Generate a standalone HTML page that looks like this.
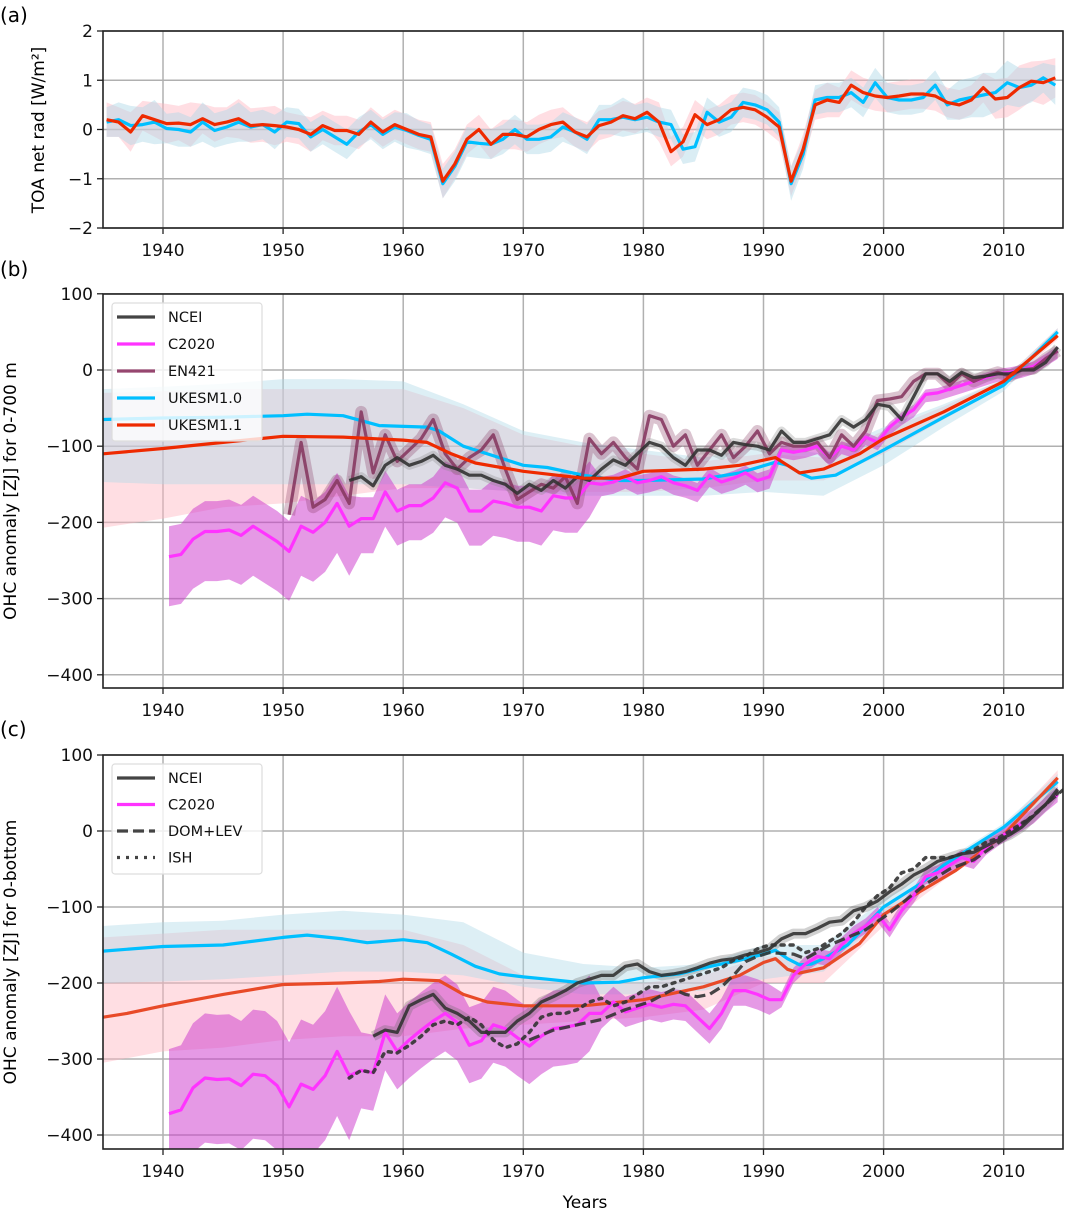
<!DOCTYPE html>
<html><head><meta charset="utf-8">
<style>
html,body{margin:0;padding:0;background:#fff;}
svg{display:block;font-family:"DejaVu Sans","Liberation Sans",sans-serif;}
</style></head>
<body>
<svg id="chart" width="1065" height="1210" viewBox="0 0 1065 1210" xmlns="http://www.w3.org/2000/svg">
<text x="0" y="22" font-size="20">(a)</text>
<text x="0" y="276" font-size="20">(b)</text>
<text x="0" y="736" font-size="20">(c)</text>
<text x="585" y="1208" font-size="17" text-anchor="middle">Years</text>
<text transform="translate(44,130) rotate(-90)" font-size="17" text-anchor="middle">TOA net rad [W/m²]</text>
<text transform="translate(16,491) rotate(-90)" font-size="17" text-anchor="middle">OHC anomaly [ZJ] for 0-700 m</text>
<text transform="translate(16,952) rotate(-90)" font-size="17" text-anchor="middle">OHC anomaly [ZJ] for 0-bottom</text>
</svg>
<script>
// ---------- data ----------
const xTicks = [1940,1950,1960,1970,1980,1990,2000,2010];
const yTicksA = [2,1,0,-1,-2];
const yTicksB = [100,0,-100,-200,-300,-400];
const yTicksC = [100,0,-100,-200,-300,-400];

// Panel a (annual, 1935-2014)
const toaYears = [1935,1936,1937,1938,1939,1940,1941,1942,1943,1944,1945,1946,1947,1948,1949,1950,1951,1952,1953,1954,1955,1956,1957,1958,1959,1960,1961,1962,1963,1964,1965,1966,1967,1968,1969,1970,1971,1972,1973,1974,1975,1976,1977,1978,1979,1980,1981,1982,1983,1984,1985,1986,1987,1988,1989,1990,1991,1992,1993,1994,1995,1996,1997,1998,1999,2000,2001,2002,2003,2004,2005,2006,2007,2008,2009,2010,2011,2012,2013,2014];
const toaUK11 = [0.2,0.15,-0.05,0.28,0.2,0.12,0.13,0.1,0.22,0.1,0.15,0.22,0.08,0.1,0.08,0.05,0,-0.1,0.08,-0.02,-0.02,-0.1,0.15,-0.05,0.1,0,-0.1,-0.15,-1.05,-0.7,-0.2,0,-0.3,-0.1,-0.1,-0.15,0,0.1,0.15,-0.05,-0.15,0.08,0.15,0.28,0.22,0.35,0.15,-0.45,-0.25,0.3,0.1,0.2,0.4,0.45,0.4,0.25,0.05,-1.05,-0.4,0.5,0.6,0.55,0.9,0.75,0.68,0.65,0.68,0.72,0.72,0.68,0.55,0.5,0.6,0.85,0.62,0.65,0.85,0.98,0.95,1.05];
const toaUK10 = [0.15,0.2,0.08,0.1,0.15,0.02,0,-0.05,0.15,-0.02,0.05,0.15,0.05,0.1,-0.05,0.15,0.12,-0.15,0,-0.15,-0.3,-0.05,0.1,-0.1,0.05,-0.02,-0.12,-0.2,-1.1,-0.75,-0.25,-0.28,-0.3,-0.2,0,-0.2,-0.2,-0.15,0.05,-0.05,-0.2,0.2,0.2,0.25,0.2,0.25,0.15,0.1,-0.4,-0.35,0.35,0.15,0.25,0.55,0.5,0.4,0.15,-1.1,-0.5,0.6,0.65,0.65,0.75,0.55,0.95,0.65,0.6,0.6,0.65,0.9,0.5,0.6,0.65,0.7,0.75,0.95,0.85,0.9,1.05,0.9];
const toaErr = [0.35,0.3,0.4,0.3,0.35,0.4,0.35,0.45,0.3,0.35,0.3,0.4,0.35,0.35,0.4,0.3,0.3,0.35,0.3,0.3,0.3,0.3,0.3,0.3,0.3,0.3,0.3,0.3,0.35,0.3,0.3,0.3,0.3,0.3,0.3,0.3,0.3,0.3,0.3,0.3,0.3,0.3,0.3,0.3,0.3,0.3,0.4,0.3,0.3,0.3,0.3,0.3,0.3,0.3,0.3,0.3,0.3,0.3,0.3,0.3,0.35,0.3,0.3,0.3,0.3,0.3,0.3,0.3,0.3,0.3,0.3,0.3,0.3,0.3,0.4,0.4,0.45,0.4,0.45,0.4];

// shared ensemble band years
const bandYears = [1935,1940,1945,1950,1955,1960,1965,1970,1975,1980,1985,1990,1995,2000,2005,2010,2014.5];

// Panel b
const bUK10Years = [1935,1940,1945,1950,1952,1955,1958,1962,1963,1965,1968,1970,1972,1975,1978,1980,1985,1988,1991,1992,1993,1994,1996,2000,2005,2010,2014.5];
const bUK10 = [-65,-63,-62,-60,-58,-60,-73,-75,-80,-100,-115,-125,-128,-138,-145,-145,-143,-135,-121,-125,-135,-142,-138,-105,-62,-20,50];
const bUK11Years = [1935,1940,1945,1950,1955,1960,1962,1964,1966,1970,1975,1978,1980,1985,1988,1991,1992,1993,1995,1998,2000,2005,2010,2014.5];
const bUK11 = [-110,-103,-95,-87,-88,-92,-95,-110,-122,-133,-142,-142,-133,-130,-125,-115,-125,-135,-130,-110,-90,-55,-15,45];
const bBlueHi = [-25,-22,-18,-12,-12,-15,-45,-80,-95,-105,-115,-100,-110,-75,-45,-12,55];
const bBlueLo = [-147,-150,-150,-150,-150,-150,-155,-160,-165,-165,-165,-160,-165,-125,-75,-28,45];
const bPinkHi = [-30,-28,-25,-25,-25,-25,-50,-85,-100,-110,-120,-110,-115,-80,-48,-12,55];
const bPinkLo = [-207,-195,-180,-175,-165,-155,-155,-160,-160,-160,-155,-145,-145,-110,-65,-22,40];
const bNceiStart = 1955;
const bNcei = [-145,-140,-152,-125,-115,-125,-120,-112,-125,-130,-138,-138,-145,-150,-162,-150,-158,-145,-155,-140,-145,-130,-118,-125,-110,-95,-100,-115,-125,-105,-105,-112,-95,-98,-100,-105,-80,-95,-95,-90,-85,-65,-75,-65,-45,-48,-65,-35,-5,-5,-15,-3,-10,-8,-5,-5,0,0,10,30];
const bEnStart = 1950;
const bEn = [-190,-95,-180,-170,-145,-175,-55,-135,-85,-120,-105,-90,-65,-110,-130,-115,-105,-85,-130,-170,-160,-150,-155,-140,-175,-90,-110,-95,-115,-130,-60,-65,-100,-85,-125,-105,-85,-115,-100,-80,-110,-95,-100,-100,-95,-115,-85,-100,-80,-40,-38,-35,-15,-5,-5,-20,-5,-15,-8,-3,-8,0,2,15,25];
const bC20Start = 1940;
const bC20 = [-245,-242,-222,-212,-212,-210,-217,-205,-215,-225,-238,-205,-213,-200,-175,-205,-195,-195,-160,-185,-178,-178,-168,-148,-155,-185,-185,-172,-175,-180,-180,-185,-165,-168,-168,-148,-150,-147,-140,-148,-145,-140,-148,-152,-158,-138,-147,-142,-135,-145,-140,-105,-108,-105,-100,-115,-100,-105,-88,-95,-75,-62,-52,-32,-30,-25,-20,-15,-10,-5,-3,0,5,15,25];

// Panel c
const cUK10Years = [1935,1940,1945,1950,1952,1955,1957,1960,1962,1964,1966,1968,1970,1972,1975,1978,1980,1983,1985,1988,1990,1991,1992,1993,1994,1995,1997,2000,2003,2005,2010,2014.5];
const cUK10 = [-158,-152,-150,-140,-137,-142,-147,-143,-147,-162,-178,-188,-192,-195,-200,-199,-193,-188,-180,-170,-162,-157,-168,-176,-175,-168,-150,-100,-70,-45,5,65];
const cUK11Years = [1935,1937,1940,1945,1950,1955,1958,1960,1963,1965,1967,1970,1975,1980,1985,1988,1990,1991,1992,1993,1995,1998,2000,2003,2006,2010,2014.5];
const cUK11 = [-245,-240,-230,-215,-202,-200,-198,-195,-197,-215,-225,-230,-230,-222,-205,-190,-173,-168,-182,-187,-180,-148,-110,-80,-52,-5,70];
const cBlueHi = [-125,-120,-118,-110,-105,-110,-120,-160,-175,-180,-175,-150,-150,-90,-40,10,75];
const cBlueLo = [-200,-198,-195,-190,-185,-185,-190,-205,-215,-215,-210,-195,-185,-115,-55,-5,55];
const cPinkHi = [-140,-135,-130,-130,-130,-130,-150,-190,-200,-200,-190,-165,-165,-100,-48,5,80];
const cPinkLo = [-305,-290,-285,-275,-270,-270,-260,-255,-250,-245,-235,-200,-200,-125,-65,-12,60];
const cNceiStart = 1957;
const cNcei = [-270,-262,-265,-230,-222,-215,-233,-240,-250,-265,-265,-265,-250,-240,-225,-218,-210,-200,-195,-190,-190,-178,-175,-185,-190,-188,-185,-180,-174,-170,-168,-163,-160,-155,-142,-135,-135,-128,-120,-118,-105,-100,-92,-80,-70,-58,-50,-40,-35,-30,-28,-20,-12,-5,5,20,35,55];
const cDomYears = [1970,1972,1974,1976,1978,1980,1982,1983,1984,1985,1986,1987,1988,1989,1990,1992,1993,1995,1998,2000,2003,2005,2007,2010,2014.5];
const cDom = [-275,-262,-255,-248,-235,-225,-208,-215,-218,-215,-205,-190,-172,-165,-160,-162,-168,-150,-130,-108,-70,-50,-38,-5,55];
const cIshStart = 1955;
const cIsh = [-325,-315,-318,-290,-292,-282,-270,-255,-250,-255,-245,-255,-275,-285,-280,-265,-245,-240,-240,-235,-225,-220,-230,-225,-215,-205,-205,-200,-195,-190,-185,-180,-170,-165,-155,-150,-150,-150,-160,-155,-145,-135,-120,-100,-85,-75,-55,-50,-35,-35,-35,-30,-25,-15,-10,0,10,20,35,50];
const cC20Start = 1940;
const cC20 = [-372,-367,-338,-325,-327,-326,-335,-320,-322,-335,-363,-333,-340,-322,-290,-322,-315,-318,-265,-290,-275,-262,-250,-240,-252,-282,-276,-255,-260,-272,-283,-270,-260,-258,-255,-240,-240,-225,-238,-233,-228,-232,-228,-230,-245,-260,-240,-210,-210,-215,-222,-222,-190,-175,-165,-168,-150,-135,-125,-110,-130,-105,-85,-60,-55,-45,-35,-40,-22,-10,0,10,20,35,48];

// ---------- drawing ----------
const NS = "http://www.w3.org/2000/svg";
const svg = document.getElementById('chart');
const X0 = 103, X1 = 1063;
function xs(yr){ return 163 + (yr - 1940) * 12.01; }
function mkY(v0, y0, pxPerUnit){ return v => y0 - (v - v0) * pxPerUnit; }
const panels = [
  {id:'a', top:31, bot:228, y: mkY(0,129.5,49.25), ticks:yTicksA, fmt:v=>v<0?'\u2212'+(-v):String(v)},
  {id:'b', top:294, bot:688, y: mkY(0,370,0.762), ticks:yTicksB, fmt:v=>v<0?'\u2212'+(-v):String(v)},
  {id:'c', top:755, bot:1149, y: mkY(0,831,0.76), ticks:yTicksC, fmt:v=>v<0?'\u2212'+(-v):String(v)}
];
function el(tag, attrs, parent){
  const e = document.createElementNS(NS, tag);
  for (const k in attrs) e.setAttribute(k, attrs[k]);
  (parent||svg).appendChild(e);
  return e;
}
function seqYears(start, n){ const a=[]; for(let i=0;i<n;i++) a.push(start+i); return a; }
function linePath(years, vals, yf, off){
  return years.map((yr,i)=>(i?'L':'M')+xs(yr+off).toFixed(1)+','+yf(vals[i]).toFixed(1)).join(' ');
}
function bandPath(years, hi, lo, yf, off){
  let d = years.map((yr,i)=>(i?'L':'M')+xs(yr+off).toFixed(1)+','+yf(hi[i]).toFixed(1)).join(' ');
  for (let i=years.length-1;i>=0;i--) d += ' L'+xs(years[i]+off).toFixed(1)+','+yf(lo[i]).toFixed(1);
  return d+' Z';
}

panels.forEach(p=>{
  const g = el('g',{});
  
  
  const cp = el('clipPath',{id:'clip'+p.id}, g);
  el('rect',{x:X0,y:p.top,width:X1-X0,height:p.bot-p.top}, cp);
  xTicks.forEach(t=>{
    const l = el('line',{x1:xs(t),x2:xs(t),y1:p.top,y2:p.bot,stroke:'#b0b0b0','stroke-width':1.5}, g);
    
    
    const tk = el('line',{x1:xs(t),x2:xs(t),y1:p.bot,y2:p.bot+6,stroke:'#222','stroke-width':1.3}, g);
    
    
    const tx = el('text',{x:xs(t),y:p.bot+28,'font-size':17,'text-anchor':'middle',fill:'#111'}, g);
    tx.textContent = t;
    
    
  });
  p.ticks.forEach(t=>{
    const yy = p.y(t);
    const l = el('line',{x1:X0,x2:X1,y1:yy,y2:yy,stroke:'#b0b0b0','stroke-width':1.5}, g);
    
    
    const tk = el('line',{x1:X0-6,x2:X0,y1:yy,y2:yy,stroke:'#222','stroke-width':1.3}, g);
    
    
    const tx = el('text',{x:X0-10,y:yy+6,'font-size':17,'text-anchor':'end',fill:'#111'}, g);
    tx.textContent = p.fmt(t);
    
    
  });
  p.g = el('g',{'clip-path':'url(#clip'+p.id+')'}, g);
  p.frameG = g;
});

function addBand(p, name, d, fill, op){
  const e = el('path',{d:d, fill:fill, 'fill-opacity':op, stroke:'none'}, p.g);
  
  
}
function addLine(p, name, d, color, w, extra){
  const e = el('path',{d:d, fill:'none', stroke:color, 'stroke-width':w, 'stroke-linejoin':'round'}, p.g);
  if (extra) for (const k in extra) e.setAttribute(k, extra[k]);
  
  
}

// Panel a
(function(){
  const p = panels[0];
  const hi11 = toaUK11.map((v,i)=>v+toaErr[i]), lo11 = toaUK11.map((v,i)=>v-toaErr[i]);
  const hi10 = toaUK10.map((v,i)=>v+toaErr[(i+3)%toaErr.length]), lo10 = toaUK10.map((v,i)=>v-toaErr[(i+3)%toaErr.length]);
  addBand(p,'ukesm11-toa-band',bandPath(toaYears,hi11,lo11,p.y,0.3),'#ffb6c1',0.45);
  addBand(p,'ukesm10-toa-band',bandPath(toaYears,hi10,lo10,p.y,0.3),'#add8e6',0.45);
  addLine(p,'ukesm10-toa-line',linePath(toaYears,toaUK10,p.y,0.3),'#00bfff',3.2);
  addLine(p,'ukesm11-toa-line',linePath(toaYears,toaUK11,p.y,0.3),'#ee2a00',3.2);
})();

// Panel b
(function(){
  const p = panels[1];
  addBand(p,'ukesm11-band',bandPath(bandYears,bPinkHi,bPinkLo,p.y,0),'#ffb6c1',0.45);
  addBand(p,'ukesm10-band',bandPath(bandYears,bBlueHi,bBlueLo,p.y,0),'#add8e6',0.42);
  const cy = seqYears(bC20Start,bC20.length);
  const cerr = cy.map(y=> y<1956?50: y<1976?35: y<1991?12:8);
  addBand(p,'c2020-band',bandPath(cy,bC20.map((v,i)=>v+cerr[i]*0.8),bC20.map((v,i)=>v-cerr[i]*1.3),p.y,0.5),'#cc33cc',0.5);
  const ey = seqYears(bEnStart,bEn.length);
  addLine(p,'en421-band',linePath(ey,bEn,p.y,0.5),'#873a62',12,{'stroke-opacity':0.3});
  const ny = seqYears(bNceiStart,bNcei.length);
  addLine(p,'ncei-band',linePath(ny,bNcei,p.y,0.5),'#888',9,{'stroke-opacity':0.3});
  addLine(p,'ukesm10-line',linePath(bUK10Years,bUK10,p.y,0),'#00bfff',3.2);
  addLine(p,'c2020-line',linePath(cy,bC20,p.y,0.5),'#ff33ff',3.2);
  addLine(p,'en421-line',linePath(ey,bEn,p.y,0.5),'#873a62',3.2,{'stroke-opacity':0.9});
  addLine(p,'ncei-line',linePath(ny,bNcei,p.y,0.5),'#333',3.2,{'stroke-opacity':0.9});
  addLine(p,'ukesm11-line',linePath(bUK11Years,bUK11,p.y,0),'#ee2a00',3.2);
})();

// Panel c
(function(){
  const p = panels[2];
  addBand(p,'ukesm11-band',bandPath(bandYears,cPinkHi,cPinkLo,p.y,0),'#ffb6c1',0.45);
  addBand(p,'ukesm10-band',bandPath(bandYears,cBlueHi,cBlueLo,p.y,0),'#add8e6',0.42);
  const cy = seqYears(cC20Start,cC20.length);
  const cerr = cy.map(y=> y<1956?85: y<1976?50: y<1991?20:10);
  addBand(p,'c2020-band',bandPath(cy,cC20.map((v,i)=>v+cerr[i]),cC20.map((v,i)=>v-cerr[i]),p.y,0.5),'#cc33cc',0.5);
  const ny = seqYears(cNceiStart,cNcei.length);
  addLine(p,'ncei-band',linePath(ny,cNcei,p.y,0.5),'#666',10,{'stroke-opacity':0.3});
  addLine(p,'ukesm10-line',linePath(cUK10Years,cUK10,p.y,0),'#00bfff',3.2);
  addLine(p,'ukesm11-line',linePath(cUK11Years,cUK11,p.y,0),'#e84a28',3.2);
  addLine(p,'c2020-line',linePath(cy,cC20,p.y,0.5),'#ff33ff',3.2);
  addLine(p,'ncei-line',linePath(ny,cNcei,p.y,0.5),'#333',3.2,{'stroke-opacity':0.9});
  addLine(p,'dom-lev-line',linePath(cDomYears,cDom,p.y,0.5),'#333',3.2,{'stroke-dasharray':'11,5','stroke-opacity':0.9});
  const iy = seqYears(cIshStart,cIsh.length);
  addLine(p,'ish-line',linePath(iy,cIsh,p.y,0.5),'#333',3.5,{'stroke-dasharray':'3,6','stroke-linecap':'round','stroke-opacity':0.9});
})();

// frames
panels.forEach(p=>{
  const f = el('rect',{x:X0,y:p.top,width:X1-X0,height:p.bot-p.top,fill:'none',stroke:'#222','stroke-width':1.6}, p.frameG);
  
  
});

// legends
function legend(x, y, w, h, entries, gap, name){
  const g = el('g',{});
  
  
  el('rect',{x:x,y:y,width:w,height:h,rx:3,fill:'#fff','fill-opacity':0.8,stroke:'#ddd','stroke-width':1.2}, g);
  entries.forEach((en,i)=>{
    const yy = y + 14 + i*gap;
    const ln = el('line',{x1:x+5,x2:x+43,y1:yy,y2:yy,stroke:en.c,'stroke-width':3.2}, g);
    if (en.dash) ln.setAttribute('stroke-dasharray', en.dash);
    
    
    const t = el('text',{x:x+56,y:yy+5,'font-size':14.5,fill:'#111'}, g);
    t.textContent = en.t;
    
    
  });
}
legend(112,303,150,138,[{t:'NCEI',c:'#444'},{t:'C2020',c:'#ff33ff'},{t:'EN421',c:'#96466f'},{t:'UKESM1.0',c:'#00bfff'},{t:'UKESM1.1',c:'#ee2a00'}],27,'legend-b');
legend(112,764,150,110,[{t:'NCEI',c:'#444'},{t:'C2020',c:'#ff33ff'},{t:'DOM+LEV',c:'#444',dash:'11,5'},{t:'ISH',c:'#444',dash:'3,6'}],26.5,'legend-c');
</script>
</body></html>
